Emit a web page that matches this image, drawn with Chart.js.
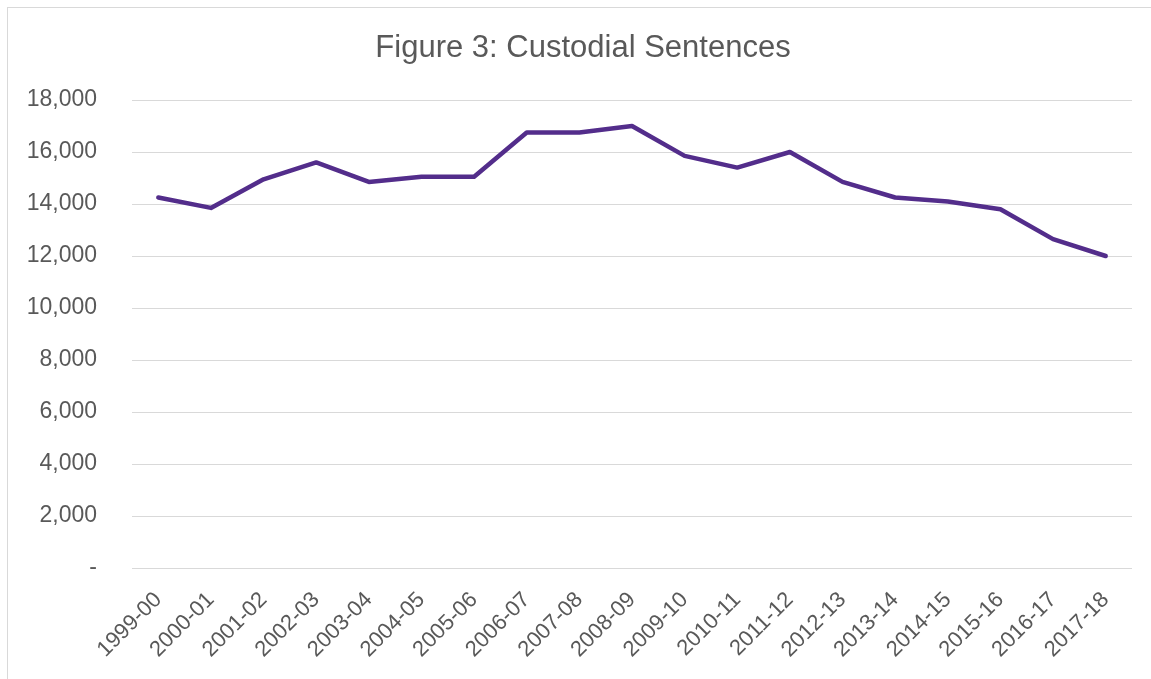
<!DOCTYPE html>
<html>
<head>
<meta charset="utf-8">
<title>Custodial Sentences</title>
<script src="https://cdn.jsdelivr.net/npm/chart.js@4.4.0/dist/chart.umd.min.js"></script>
<style>
    html, body { margin: 0; padding: 0; background: #fff; overflow: hidden; }
    #wrap { width: 1151px; height: 679px; position: relative; }
</style>
</head>
<body>
<div id="wrap"><canvas id="myChart"></canvas></div>
<script>
// financial years and custodial sentence counts
var years = ['1999-00', '2000-01', '2001-02', '2002-03', '2003-04', '2004-05', '2005-06',
    '2006-07', '2007-08', '2008-09', '2009-10', '2010-11', '2011-12', '2012-13',
    '2013-14', '2014-15', '2015-16', '2016-17', '2017-18'];
var custodial = [14250, 13850, 14950, 15600, 14850, 15050, 15050,
    16750, 16750, 17000, 15850, 15400, 16000, 14850,
    14250, 14100, 13800, 12650, 12000];
var yTicks = [0, 2000, 4000, 6000, 8000, 10000, 12000, 14000, 16000, 18000];

var titleText = 'Figure 3: Custodial Sentences';
var fontFamily = '"Liberation Sans", Arial, sans-serif';
var textGrey = '#595959';

// light frame round the whole chart, title sits a little right of centre
var frame = {
    id: 'frame',
    beforeDraw: function(chart) {
        var c = chart.ctx;
        c.save();
        c.fillStyle = '#fff';
        c.fillRect(0, 0, chart.width, chart.height);
        c.strokeStyle = '#d9d9d9';
        c.lineWidth = 1;
        c.strokeRect(7.5, 7.5, chart.width + 20, chart.height + 20);
        c.restore();
    },
    afterDraw: function(chart) {
        var c = chart.ctx;
        c.save();
        c.fillStyle = textGrey;
        c.font = '31px ' + fontFamily;
        c.textAlign = 'center';
        c.textBaseline = 'alphabetic';
        c.fillText(titleText, 583, 57);
        c.restore();
    }
};

var ctx = document.getElementById('myChart');
var lineChart = new Chart(ctx, {
    type: 'line',
    data: {
        labels: years,
        datasets: [{
            label: 'Custodial sentences',
            data: custodial,
            borderColor: '#532d8b',
            borderWidth: 4.5,
            borderJoinStyle: 'round',
            borderCapStyle: 'round',
            pointRadius: 0,
            tension: 0,
            fill: false
        }]
    },
    options: {
        responsive: true,
        maintainAspectRatio: false,
        animation: false,
        layout: { padding: { left: 0, right: 19, top: 100, bottom: 0 } },
        plugins: {
            legend: { display: false },
            tooltip: { enabled: false },
            title: { display: false }
        },
        scales: {
            x: {
                offset: true,
                grid: { display: false, drawTicks: false },
                border: { display: false },
                ticks: {
                    color: textGrey,
                    font: { family: fontFamily, size: 22 },
                    minRotation: 45,
                    maxRotation: 45,
                    padding: 19,
                    autoSkip: false
                },
                afterFit: function(scale) { scale.height = 111; }
            },
            y: {
                min: 0,
                max: 18000,
                afterBuildTicks: function(scale) {
                    scale.ticks = yTicks.map(function(v) { return { value: v }; });
                },
                grid: { color: '#d9d9d9', lineWidth: 1, drawTicks: false },
                border: { display: false },
                ticks: {
                    color: textGrey,
                    font: { family: fontFamily, size: 23 },
                    padding: 35,
                    callback: function(v) {
                        return v === 0 ? '-' : v.toLocaleString('en-US');
                    }
                },
                afterFit: function(scale) { scale.width = 132; }
            }
        }
    },
    plugins: [frame]
});
</script>
</body>
</html>
